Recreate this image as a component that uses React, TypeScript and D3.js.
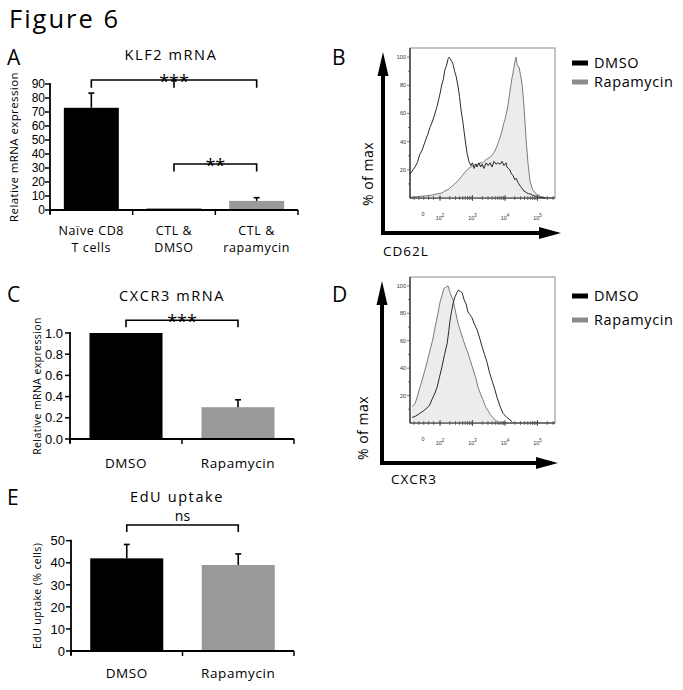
import React from "react";
import * as d3 from "d3";

const FONT = "'Open Sans', 'Noto Sans', sans-serif";
const TICK_FONT = "'Liberation Sans', Arial, sans-serif";
const TINY_FONT = "'Liberation Sans', Arial, sans-serif";

// ---------- Panel A: KLF2 mRNA ----------
const klf2Categories = [["Naïve CD8", "T cells"], ["CTL &", "DMSO"], ["CTL &", "rapamycin"]];
const klf2Values = [73, 1, 6.5];
const klf2Errors = [10.5, 0, 2.3];
const klf2Ticks = [0, 10, 20, 30, 40, 50, 60, 70, 80, 90];

// ---------- Panel C: CXCR3 mRNA ----------
const cxcr3Categories = [["DMSO"], ["Rapamycin"]];
const cxcr3Values = [1.0, 0.3];
const cxcr3Errors = [0, 0.07];
const cxcr3Ticks = [0, 0.2, 0.4, 0.6, 0.8, 1.0];

// ---------- Panel E: EdU uptake ----------
const eduCategories = [["DMSO"], ["Rapamycin"]];
const eduValues = [42, 39];
const eduErrors = [6.3, 5];
const eduTicks = [0, 10, 20, 30, 40, 50];

// ---------- Histograms (x in log10 display units, y in % of max) ----------
const cd62lDmsoLog = [1.08, 1.23, 1.3, 1.38, 1.45, 1.54, 1.62, 1.69, 1.76, 1.82, 1.87, 1.91, 1.96, 2.0, 2.06, 2.1, 2.15, 2.2, 2.25, 2.28, 2.31, 2.36, 2.4, 2.45, 2.49, 2.55, 2.6, 2.65, 2.71, 2.77, 2.83, 2.89, 2.95, 3.0, 3.05, 3.1, 3.14, 3.2, 3.25, 3.3, 3.35, 3.42, 3.48, 3.54, 3.6, 3.66, 3.72, 3.78, 3.85, 3.91, 3.97, 4.03, 4.06, 4.1, 4.15, 4.2, 4.25, 4.3, 4.34, 4.4, 4.43, 4.48, 4.52, 4.58, 4.65, 4.72, 4.77, 4.85, 4.92, 5.0, 5.08, 5.15, 5.23];
const cd62lDmsoPct = [17, 22, 25, 31, 34, 40, 45, 50, 54, 58, 62, 65, 70, 74, 81, 84, 91, 94, 99, 100, 99, 97, 95, 90, 87, 80, 72, 62, 53, 42, 32, 26, 23, 25, 21, 24, 22, 25, 22, 24, 21, 25, 23, 25, 22, 26, 24, 25, 24, 26, 23, 25, 22, 21, 20, 17, 16, 13, 14, 11, 10, 8, 7, 5, 4, 3, 3, 2, 1.5, 1, 0.5, 0.3, 0];
const cd62lRapaLog = [1.08, 1.3, 1.55, 1.75, 1.92, 2.05, 2.15, 2.25, 2.35, 2.45, 2.55, 2.65, 2.72, 2.8, 2.88, 2.95, 3.02, 3.1, 3.18, 3.25, 3.32, 3.4, 3.47, 3.55, 3.62, 3.68, 3.74, 3.8, 3.85, 3.9, 3.95, 4.0, 4.05, 4.1, 4.14, 4.18, 4.22, 4.24, 4.27, 4.3, 4.34, 4.38, 4.43, 4.48, 4.53, 4.58, 4.62, 4.66, 4.71, 4.77, 4.85, 4.95, 5.1, 5.25];
const cd62lRapaPct = [0.5, 1, 1.5, 2, 3, 3.5, 5, 6, 8, 10, 12, 15, 17, 19, 21, 22, 23, 24, 24, 25, 25, 27, 28, 29, 31, 33, 36, 40, 43, 47, 52, 56, 61, 67, 74, 80, 86, 88, 92, 96, 100, 94, 93, 87, 80, 66, 52, 38, 24, 12, 6, 3, 1, 0.3];
const cxcr3DmsoLog = [1.14, 1.25, 1.38, 1.5, 1.6, 1.68, 1.75, 1.83, 1.91, 1.98, 2.06, 2.14, 2.22, 2.27, 2.31, 2.36, 2.4, 2.46, 2.52, 2.57, 2.62, 2.68, 2.74, 2.8, 2.86, 2.92, 2.98, 3.06, 3.14, 3.22, 3.29, 3.37, 3.45, 3.52, 3.6, 3.68, 3.75, 3.85, 3.94, 4.06, 4.22];
const cxcr3DmsoPct = [4, 5, 7, 9, 11, 13, 17, 21, 26, 33, 41, 50, 58, 67, 75, 82, 87, 92, 95, 97, 96, 95, 90, 87, 81, 79, 77, 72, 68, 62, 56, 50, 44, 37, 31, 25, 19, 12, 7, 4, 1];
const cxcr3RapaLog = [1.14, 1.23, 1.3, 1.38, 1.46, 1.54, 1.61, 1.69, 1.77, 1.85, 1.92, 2.0, 2.06, 2.12, 2.18, 2.25, 2.31, 2.36, 2.4, 2.47, 2.55, 2.63, 2.71, 2.78, 2.86, 2.94, 3.02, 3.1, 3.17, 3.25, 3.32, 3.4, 3.48, 3.55, 3.63, 3.7, 3.78];
const cxcr3RapaPct = [12, 14, 19, 26, 32, 39, 45, 53, 60, 70, 78, 88, 93, 98, 99, 100, 95, 92, 90, 82, 73, 67, 61, 56, 51, 45, 39, 33, 26, 21, 17, 12, 9, 6, 4, 2, 1];

const histPctTicks = [20, 40, 60, 80, 100];
const histDecadeLabels = [
  { p: 1.48, base: "0", exp: "" },
  { p: 2, base: "10", exp: "2" },
  { p: 3, base: "10", exp: "3" },
  { p: 4, base: "10", exp: "4" },
  { p: 5, base: "10", exp: "5" },
];

type Bracket = { from: number; to: number; mid?: number; top: number; drop: number; label: string; labelSize: number };

const klf2Brackets: Bracket[] = [
  { from: 0, to: 2, mid: 1, top: 92.9, drop: 87.3, label: "***", labelSize: 18 },
  { from: 1, to: 2, top: 32.9, drop: 27.5, label: "**", labelSize: 18 },
];
const cxcr3Brackets: Bracket[] = [{ from: 0, to: 1, top: 1.12, drop: 1.055, label: "***", labelSize: 18 }];
const eduBrackets: Bracket[] = [{ from: 0, to: 1, top: 57.1, drop: 54, label: "ns", labelSize: 14 }];

type BarProps = {
  x0: number; x1: number; yBottom: number; yTop: number; max: number;
  ticks: number[]; fmt: (v: number) => string; tickLabelX: number; tickSize: number;
  cats: string[][]; values: number[]; errors: number[]; colors: string[];
  padInner: number; brackets: Bracket[];
  xLabelY: number; xLabelGap: number; xLabelSize: number;
  yLabel: string; yLabelX: number; yLabelSize: number;
  title: string; titleX: number; titleY: number;
};

function BarPanel(p: BarProps) {
  const x = d3
    .scaleBand<number>()
    .domain(d3.range(p.values.length))
    .range([p.x0, p.x1])
    .paddingInner(p.padInner)
    .paddingOuter(p.padInner / 2);
  const y = d3.scaleLinear().domain([0, p.max]).range([p.yBottom, p.yTop]);
  const cx = (i: number) => (x(i) as number) + x.bandwidth() / 2;
  const step = x.step();
  const boundaries = d3.range(p.values.length + 1).map((i) => p.x0 + i * step);
  const yMid = (p.yBottom + y(p.max)) / 2;
  return (
    <g>
      <text x={p.titleX} y={p.titleY} textAnchor="middle" fontSize={14.5} letterSpacing={1.6} fontFamily={FONT}>
        {p.title}
      </text>
      {p.values.map((v, i) => (
        <rect key={i} x={x(i)} y={y(v)} width={x.bandwidth()} height={p.yBottom - y(v)} fill={p.colors[i]} />
      ))}
      {p.values.map((v, i) =>
        p.errors[i] > 0 ? (
          <g key={"e" + i} stroke="#000" strokeWidth={1.6}>
            <line x1={cx(i)} x2={cx(i)} y1={y(v)} y2={y(v + p.errors[i])} />
            <line x1={cx(i) - 3} x2={cx(i) + 3} y1={y(v + p.errors[i])} y2={y(v + p.errors[i])} />
          </g>
        ) : null
      )}
      {/* axes */}
      <line x1={p.x0} x2={p.x0} y1={y(p.max) - 1} y2={p.yBottom + 4} stroke="#000" strokeWidth={1.8} />
      <line x1={p.x0} x2={p.x1} y1={p.yBottom} y2={p.yBottom} stroke="#000" strokeWidth={1.8} />
      {p.ticks.map((t) => (
        <g key={"t" + t}>
          <line x1={p.x0 - 5} x2={p.x0} y1={y(t)} y2={y(t)} stroke="#000" strokeWidth={1.5} />
          <text x={p.tickLabelX} y={y(t)} dy="0.36em" textAnchor="end" fontSize={p.tickSize} fontFamily={TICK_FONT}>
            {p.fmt(t)}
          </text>
        </g>
      ))}
      {boundaries.map((b, i) => (
        <line key={"b" + i} x1={b} x2={b} y1={p.yBottom} y2={p.yBottom + 5} stroke="#000" strokeWidth={1.5} />
      ))}
      {p.cats.map((lines, i) => (
        <text key={"c" + i} x={cx(i)} y={p.xLabelY} textAnchor="middle" fontSize={p.xLabelSize} letterSpacing={0.6} fontFamily={FONT}>
          {lines.map((l, j) => (
            <tspan key={j} x={cx(i)} dy={j === 0 ? 0 : p.xLabelGap}>
              {l}
            </tspan>
          ))}
        </text>
      ))}
      <text
        transform={`translate(${p.yLabelX},${yMid}) rotate(-90)`}
        textAnchor="middle"
        fontSize={p.yLabelSize}
        letterSpacing={0.4}
        fontFamily={FONT}
      >
        {p.yLabel}
      </text>
      {p.brackets.map((b, i) => {
        const xa = cx(b.from);
        const xb = cx(b.to);
        const xm = b.mid !== undefined ? cx(b.mid) : null;
        const labelX = xm !== null ? xm : (xa + xb) / 2;
        return (
          <g key={"br" + i}>
            <path
              d={`M${xa},${y(b.drop)}V${y(b.top)}H${xb}V${y(b.drop)}`}
              fill="none"
              stroke="#000"
              strokeWidth={1.6}
            />
            {xm !== null ? <line x1={xm} x2={xm} y1={y(b.top)} y2={y(b.drop)} stroke="#000" strokeWidth={1.6} /> : null}
            <text
              x={labelX}
              y={b.label === "ns" ? y(b.top) - 4 : y(b.top) + 8}
              textAnchor="middle"
              fontSize={b.labelSize}
              fontFamily={FONT}
            >
              {b.label}
            </text>
          </g>
        );
      })}
    </g>
  );
}

type HistProps = {
  top: number; bottom: number; left: number; right: number;
  dmsoLog: number[]; dmsoPct: number[]; rapaLog: number[]; rapaPct: number[];
  arrowX: number; arrowTop: number; arrowY: number; arrowRight: number;
  axisTitle: string; axisTitleX: number; axisTitleY: number;
  pctLabelX: number; pctLabelY: number;
  legendY1: number; legendY2: number;
};

function HistPanel(h: HistProps) {
  const x = d3.scaleLinear().domain([1.077, 5.538]).range([h.left, h.right]);
  const y = d3.scaleLinear().domain([0, 106.5]).range([h.bottom, h.top]);
  const rapaPts = h.rapaLog.map((v, i) => [v, h.rapaPct[i]] as [number, number]);
  const dmsoPts = h.dmsoLog.map((v, i) => [v, h.dmsoPct[i]] as [number, number]);
  const area = d3
    .area<[number, number]>()
    .x((d) => x(d[0]))
    .y0(y(0))
    .y1((d) => y(d[1]));
  const line = d3
    .line<[number, number]>()
    .x((d) => x(d[0]))
    .y((d) => y(d[1]));
  const minorX: number[] = [];
  [1.2, 1.35, 1.5, 1.65, 1.8].forEach((v) => minorX.push(v));
  [2, 3, 4].forEach((d) => d3.range(1, 10).forEach((k) => minorX.push(d + Math.log10(k))));
  minorX.push(5, 5 + Math.log10(2), 5 + Math.log10(3));
  const majorX = [2, 3, 4, 5];
  const minorY = d3.range(10, 101, 10);
  return (
    <g>
      {/* arrows */}
      <line x1={h.arrowX} x2={h.arrowX} y1={h.arrowY} y2={h.arrowTop + 20} stroke="#000" strokeWidth={4} />
      <polygon points={`${h.arrowX},${h.arrowTop} ${h.arrowX - 5.5},${h.arrowTop + 24} ${h.arrowX + 5.5},${h.arrowTop + 24}`} fill="#000" />
      <line x1={h.arrowX - 2} x2={h.arrowRight - 18} y1={h.arrowY} y2={h.arrowY} stroke="#000" strokeWidth={4} />
      <polygon points={`${h.arrowRight},${h.arrowY} ${h.arrowRight - 22},${h.arrowY - 6} ${h.arrowRight - 22},${h.arrowY + 6}`} fill="#000" />
      <text
        transform={`translate(${h.pctLabelX},${h.pctLabelY}) rotate(-90)`}
        textAnchor="middle"
        fontSize={14}
        letterSpacing={0.5}
        fontFamily={FONT}
      >
        % of max
      </text>
      <text x={h.axisTitleX} y={h.axisTitleY} fontSize={13.5} letterSpacing={1} fontFamily={FONT}>
        {h.axisTitle}
      </text>
      {/* plot box */}
      <rect x={h.left} y={h.top} width={h.right - h.left} height={h.bottom - h.top} fill="#fff" stroke="#8a8a8a" strokeWidth={1} />
      <path d={area(rapaPts) || ""} fill="#ececec" stroke="none" />
      <path d={line(rapaPts) || ""} fill="none" stroke="#7a7a7a" strokeWidth={1} />
      <path d={line(dmsoPts) || ""} fill="none" stroke="#2a2a2a" strokeWidth={1} />
      <line x1={h.left} x2={h.left} y1={h.top} y2={h.bottom} stroke="#222" strokeWidth={1.2} />
      <line x1={h.left} x2={h.right} y1={h.bottom} y2={h.bottom} stroke="#222" strokeWidth={1.2} />
      {minorY.map((t) => (
        <line key={"my" + t} x1={h.left - (t % 20 === 0 ? 3 : 2)} x2={h.left} y1={y(t)} y2={y(t)} stroke="#444" strokeWidth={0.7} />
      ))}
      {histPctTicks.map((t) => (
        <text key={"py" + t} x={h.left - 4} y={y(t)} dy="0.35em" textAnchor="end" fontSize={5.5} fill="#333" fontFamily={TINY_FONT}>
          {t}
        </text>
      ))}
      {minorX.map((t, i) => (
        <line key={"mx" + i} x1={x(t)} x2={x(t)} y1={h.bottom - 2} y2={h.bottom + 2} stroke="#444" strokeWidth={0.7} />
      ))}
      {majorX.map((t) => (
        <line key={"Mx" + t} x1={x(t)} x2={x(t)} y1={h.bottom - 3} y2={h.bottom + 3} stroke="#444" strokeWidth={0.8} />
      ))}
      {histDecadeLabels.map((l, i) => (
        <text
          key={"dl" + i}
          x={x(l.p)}
          y={h.bottom + (l.exp ? 22 : 18)}
          textAnchor="middle"
          fontSize={5.5}
          fill="#333"
          fontFamily={TINY_FONT}
        >
          {l.base}
          {l.exp ? (
            <tspan dy={-3} fontSize={4.5}>
              {l.exp}
            </tspan>
          ) : null}
        </text>
      ))}
      {/* legend */}
      <line x1={572} x2={588} y1={h.legendY1} y2={h.legendY1} stroke="#000" strokeWidth={5} />
      <text x={594} y={h.legendY1 + 5} fontSize={14.5} letterSpacing={0.6} fontFamily={FONT}>
        DMSO
      </text>
      <line x1={572} x2={588} y1={h.legendY2} y2={h.legendY2} stroke="#8c8c8c" strokeWidth={5} />
      <text x={594} y={h.legendY2 + 5} fontSize={14.5} letterSpacing={0.6} fontFamily={FONT}>
        Rapamycin
      </text>
    </g>
  );
}

export default function App() {
  const panelLetter = (t: string, x: number, y: number) => (
    <text x={x} y={y} fontSize={21} fontFamily={FONT}>
      {t}
    </text>
  );
  return (
    <svg
      width={683}
      height={690}
      viewBox="0 0 683 690"
      style={{ position: "absolute", left: 0, top: 0, background: "#fff" }}
    >
      <rect width={683} height={690} fill="#fff" />
      <text x={9} y={28} fontSize={25.5} letterSpacing={2} fontFamily={FONT}>
        Figure 6
      </text>
      {panelLetter("A", 7, 65)}
      {panelLetter("B", 332, 65)}
      {panelLetter("C", 7, 302)}
      {panelLetter("D", 332, 302)}
      {panelLetter("E", 7, 505)}

      <BarPanel
        x0={50} x1={298} yBottom={210} yTop={84} max={90}
        ticks={klf2Ticks} fmt={(v) => String(v)} tickLabelX={45} tickSize={12}
        cats={klf2Categories} values={klf2Values} errors={klf2Errors} colors={["#000", "#000", "#999"]}
        padInner={0.335} brackets={klf2Brackets}
        xLabelY={235} xLabelGap={17} xLabelSize={12.5}
        yLabel="Relative mRNA expression" yLabelX={18} yLabelSize={11.5}
        title="KLF2 mRNA" titleX={171} titleY={60}
      />
      <BarPanel
        x0={70} x1={294} yBottom={439} yTop={333} max={1}
        ticks={cxcr3Ticks} fmt={(v) => v.toFixed(1)} tickLabelX={63} tickSize={13}
        cats={cxcr3Categories} values={cxcr3Values} errors={cxcr3Errors} colors={["#000", "#999"]}
        padInner={0.348} brackets={cxcr3Brackets}
        xLabelY={468} xLabelGap={16} xLabelSize={13.5}
        yLabel="Relative mRNA expression" yLabelX={41} yLabelSize={10.5}
        title="CXCR3 mRNA" titleX={172} titleY={301}
      />
      <BarPanel
        x0={71} x1={294} yBottom={651} yTop={540.7} max={50}
        ticks={eduTicks} fmt={(v) => String(v)} tickLabelX={65} tickSize={13}
        cats={eduCategories} values={eduValues} errors={eduErrors} colors={["#000", "#999"]}
        padInner={0.345} brackets={eduBrackets}
        xLabelY={678} xLabelGap={16} xLabelSize={13.5}
        yLabel="EdU uptake (% cells)" yLabelX={41} yLabelSize={10.5}
        title="EdU uptake" titleX={177} titleY={502}
      />

      <HistPanel
        top={48} bottom={198} left={410} right={555}
        dmsoLog={cd62lDmsoLog} dmsoPct={cd62lDmsoPct} rapaLog={cd62lRapaLog} rapaPct={cd62lRapaPct}
        arrowX={383} arrowTop={52} arrowY={233} arrowRight={561}
        axisTitle="CD62L" axisTitleX={383} axisTitleY={256}
        pctLabelX={373} pctLabelY={174}
        legendY1={63} legendY2={82}
      />
      <HistPanel
        top={277} bottom={423} left={410} right={555}
        dmsoLog={cxcr3DmsoLog} dmsoPct={cxcr3DmsoPct} rapaLog={cxcr3RapaLog} rapaPct={cxcr3RapaPct}
        arrowX={382} arrowTop={281} arrowY={463} arrowRight={558}
        axisTitle="CXCR3" axisTitleX={391} axisTitleY={484}
        pctLabelX={368} pctLabelY={428}
        legendY1={296} legendY2={320}
      />
    </svg>
  );
}
